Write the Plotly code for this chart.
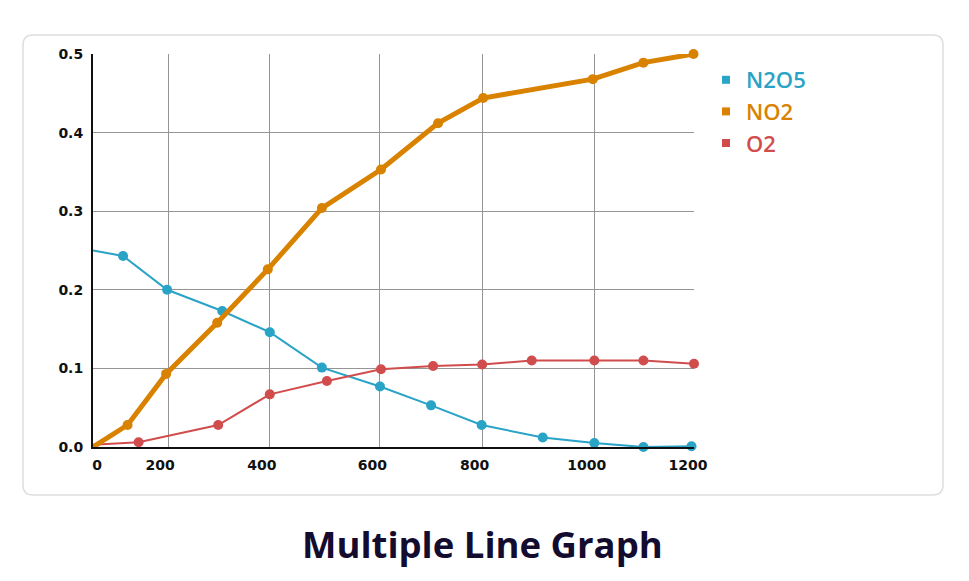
import plotly.graph_objects as go

# ---- data ----
n2o5_x = [0, 60, 148, 258, 353, 457, 573, 675, 776, 898, 1001, 1099, 1195]
n2o5_y = [0.250, 0.243, 0.200, 0.173, 0.146, 0.101, 0.077, 0.053, 0.028, 0.012, 0.005, 0.000, 0.001]

no2_x = [0, 69, 146, 248, 349, 457, 575, 689, 779, 998, 1099, 1199]
no2_y = [0.000, 0.028, 0.093, 0.158, 0.226, 0.304, 0.353, 0.412, 0.444, 0.468, 0.489, 0.500]

o2_x = [0, 91, 250, 353, 467, 575, 679, 777, 876, 1001, 1099, 1200]
o2_y = [0.003, 0.006, 0.028, 0.067, 0.084, 0.099, 0.103, 0.105, 0.110, 0.110, 0.110, 0.106]

series_names = ["N2O5", "NO2", "O2"]

# gridline positions and tick label positions as they appear in the reference
grid_x = [150, 353, 573, 777, 1002, 1200]
label_x = [8, 134, 337, 558, 762, 986, 1188]
label_text = ["0", "200", "400", "600", "800", "1000", "1200"]
y_ticks = [0.0, 0.1, 0.2, 0.3, 0.4, 0.5]

TEAL = "#29a3c6"
ORANGE = "#d98200"
RED = "#d14d4d"
colors = [TEAL, ORANGE, RED]

fig = go.Figure()

def add_series(x, y, color, width, name):
    sizes = [0] + [10] * (len(x) - 1)
    fig.add_trace(go.Scatter(
        x=x, y=y, mode="lines+markers", name=name, showlegend=False,
        line=dict(color=color, width=width),
        marker=dict(color=color, size=sizes, opacity=1, line=dict(width=0)),
        cliponaxis=False, hoverinfo="skip",
    ))

add_series(n2o5_x, n2o5_y, TEAL, 2, "N2O5")
add_series(o2_x, o2_y, RED, 2, "O2")
add_series(no2_x, no2_y, ORANGE, 5, "NO2")

# legend entries (square glyphs, coloured text)
for nm, c in zip(series_names, colors):
    fig.add_trace(go.Scatter(
        x=[None], y=[None], mode="markers", xaxis="x2",
        name=f"<span style='color:{c}'>{nm}</span>",
        marker=dict(symbol="square", size=8, color=c),
        hoverinfo="skip",
    ))

# page body has an 8px margin: work in screen pixels, convert to figure pixels
OFF = 8
W, H = 969, 581
SL, SR, ST, SB = 93, 694, 54, 447          # plot area on screen
L, R, T, B = SL - OFF, SR - OFF, ST - OFF, SB - OFF
pw, ph = R - L, B - T

def px2paper(px, py):
    return (px - SL) / pw, (SB - py) / ph

# rounded rectangle border
bx0, by0 = px2paper(23, 495)
bx1, by1 = px2paper(943, 35)
rx, ry = 10 / pw, 10 / ph
path = (f"M {bx0+rx},{by0} L {bx1-rx},{by0} Q {bx1},{by0} {bx1},{by0+ry} "
        f"L {bx1},{by1-ry} Q {bx1},{by1} {bx1-rx},{by1} "
        f"L {bx0+rx},{by1} Q {bx0},{by1} {bx0},{by1-ry} "
        f"L {bx0},{by0+ry} Q {bx0},{by0} {bx0+rx},{by0} Z")
fig.add_shape(type="path", path=path, xref="paper", yref="paper",
              line=dict(color="#dedede", width=1.5), fillcolor="rgba(0,0,0,0)", layer="below")

tx, ty = px2paper(482, 544)
fig.add_annotation(text="<b>Multiple Line Graph</b>", x=tx, y=ty, xref="paper", yref="paper",
                   xanchor="center", yanchor="middle", showarrow=False,
                   font=dict(family="Open Sans", size=36.5, color="#130c2e"))

tick_font = dict(family="DejaVu Sans", size=14, color="#111111", weight="bold")
lgx, lgy = px2paper(706, 59)

fig.update_layout(
    width=W, height=H,
    margin=dict(l=L, r=W - R, t=T, b=H - B),
    paper_bgcolor="white", plot_bgcolor="white",
    xaxis=dict(range=[0, 1200], tickvals=grid_x, showticklabels=False, ticks="",
               showgrid=True, gridcolor="#959595", gridwidth=1.2,
               showline=True, linecolor="#111111", linewidth=2, zeroline=False, fixedrange=True),
    xaxis2=dict(range=[0, 1200], overlaying="x", anchor="y", side="bottom",
                tickvals=label_x, ticktext=label_text, ticks="", showgrid=False,
                showline=False, zeroline=False, tickfont=tick_font, ticklabelstandoff=8,
                fixedrange=True),
    yaxis=dict(range=[0, 0.5], tickvals=y_ticks, tickformat=".1f", ticks="",
               showgrid=True, gridcolor="#959595", gridwidth=1.2,
               showline=True, linecolor="#111111", linewidth=2, zeroline=False,
               tickfont=tick_font, ticklabelstandoff=5, fixedrange=True),
    legend=dict(x=lgx, y=lgy, xanchor="left", yanchor="top",
                font=dict(family="Open Sans", size=22, weight=600),
                bgcolor="rgba(0,0,0,0)", itemwidth=30, tracegroupgap=0),
    showlegend=True,
)

fig.write_html("out.html", config={"displayModeBar": False})
